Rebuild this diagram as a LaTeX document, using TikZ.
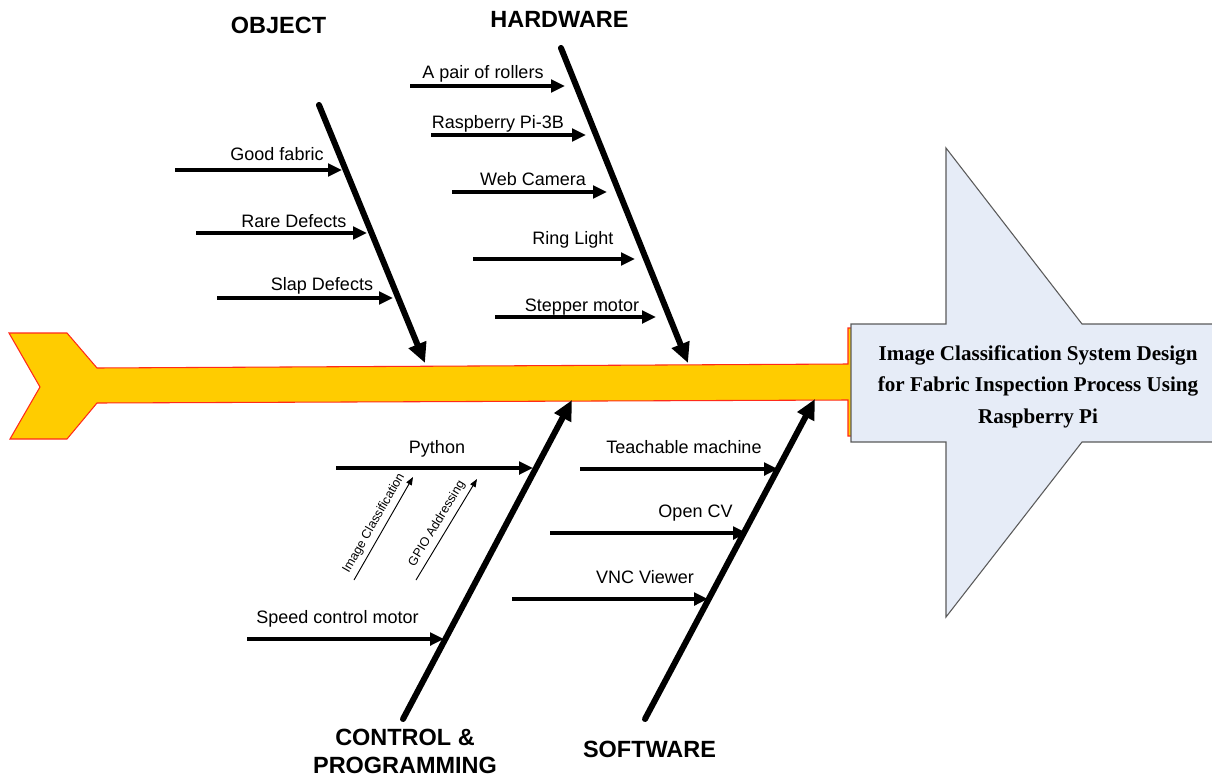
\documentclass[tikz,border=0pt]{standalone}
\usepackage{fontspec}
\setmainfont{Liberation Sans}
\newfontfamily\headfont{Liberation Serif}
\usetikzlibrary{arrows.meta}
\definecolor{spineyellow}{HTML}{FFCC00}
\definecolor{spinered}{HTML}{FF2A1A}
\definecolor{headblue}{HTML}{E6ECF7}
\definecolor{headgray}{HTML}{5A5A5A}
\begin{document}
\begin{tikzpicture}[x=0.75pt,y=-0.75pt,
  bone/.style={line width=4.5pt, line cap=round, -{Triangle[length=15pt,width=13.5pt]}},
  sub/.style={line width=2.5pt, -{Triangle[length=10.5pt,width=9.5pt]}},
  thinarrow/.style={line width=0.7pt, -{Triangle[length=6pt,width=4.5pt]}},
  lbl/.style={font=\fontsize{13.5}{16}\selectfont, inner sep=0pt, anchor=base},
  cat/.style={font=\bfseries\fontsize{17.6}{21}\selectfont, inner sep=0pt, anchor=base, align=center},
  smalllbl/.style={font=\fontsize{9.4}{11}\selectfont, sloped, above=2.5pt, inner sep=1pt}
]
\useasboundingbox (0,0) rectangle (1212,778);

% spine (fish body)
\path[fill=spineyellow, draw=spinered, line width=0.8pt]
  (9,333) -- (67,333) -- (97,368) -- (848,364) -- (848,328) -- (890,328)
  -- (890,436) -- (848,436) -- (848,400) -- (97,403) -- (67,439) -- (10,439)
  -- (40,387) -- cycle;

% head
\path[fill=headblue, draw=headgray, line width=0.8pt]
  (851,324) -- (946,324) -- (946,148) -- (1082,324) -- (1230,324)
  -- (1230,442) -- (1082,442) -- (946,617) -- (946,442) -- (851,442) -- cycle;
\node[font=\headfont\bfseries\fontsize{15.8}{23.6}\selectfont, align=center, inner sep=0pt]
  (head) at (1038,386.5) {Image Classification System Design\\for Fabric Inspection Process Using\\Raspberry Pi};

% bone coordinates
\coordinate (objA) at (319,105); \coordinate (objB) at (425,363);
\coordinate (hwA) at (561,48);  \coordinate (hwB) at (688,363);
\coordinate (cpA) at (403,719); \coordinate (cpB) at (572,400);
\coordinate (swA) at (645,719); \coordinate (swB) at (815,399);
\draw[bone] (objA) -- (objB);
\draw[bone] (hwA) -- (hwB);
\draw[bone] (cpA) -- (cpB);
\draw[bone] (swA) -- (swB);

% category labels
\node[cat] (object) at (278.5,33) {OBJECT};
\node[cat] (hardware) at (559.5,27) {HARDWARE};
\node[cat, anchor=north] (control) at (405,729) {CONTROL \&\\PROGRAMMING};
\node[cat] (software) at (649.5,757) {SOFTWARE};

% OBJECT causes
\coordinate (o1a) at (175,170); \coordinate (o1b) at (342,170);
\coordinate (o2a) at (196,233); \coordinate (o2b) at (367,233);
\coordinate (o3a) at (217,298); \coordinate (o3b) at (393,298);
\draw[sub] (o1a) -- (o1b);
\draw[sub] (o2a) -- (o2b);
\draw[sub] (o3a) -- (o3b);
\node[lbl] (good) at (277,160) {Good fabric};
\node[lbl] (rare) at (294,227) {Rare Defects};
\node[lbl] (slap) at (322,290) {Slap Defects};

% HARDWARE causes
\coordinate (h1a) at (410,86);  \coordinate (h1b) at (565,86);
\coordinate (h2a) at (431,135); \coordinate (h2b) at (586,135);
\coordinate (h3a) at (452,192); \coordinate (h3b) at (607,192);
\coordinate (h4a) at (473,259); \coordinate (h4b) at (635,259);
\coordinate (h5a) at (495,317); \coordinate (h5b) at (656,317);
\draw[sub] (h1a) -- (h1b);
\draw[sub] (h2a) -- (h2b);
\draw[sub] (h3a) -- (h3b);
\draw[sub] (h4a) -- (h4b);
\draw[sub] (h5a) -- (h5b);
\node[lbl] (rollers) at (483,78) {A pair of rollers};
\node[lbl] (rpi) at (498,128) {Raspberry Pi-3B};
\node[lbl] (cam) at (533,185) {Web Camera};
\node[lbl] (ring) at (573,244) {Ring Light};
\node[lbl] (stepper) at (582,311) {Stepper motor};

% CONTROL & PROGRAMMING causes
\coordinate (c1a) at (336,468); \coordinate (c1b) at (533,468);
\coordinate (c2a) at (247,639); \coordinate (c2b) at (444,639);
\draw[sub] (c1a) -- (c1b);
\draw[sub] (c2a) -- (c2b);
\node[lbl] (python) at (437,453) {Python};
\node[lbl] (speed) at (337.5,623) {Speed control motor};
\coordinate (i1a) at (354,580); \coordinate (i1b) at (413,477);
\coordinate (i2a) at (416,580); \coordinate (i2b) at (477,479);
\draw[thinarrow] (i1a) -- node[smalllbl] (imgcls) {Image Classification} (i1b);
\draw[thinarrow] (i2a) -- node[smalllbl] (gpio) {GPIO Addressing} (i2b);

% SOFTWARE causes
\coordinate (s1a) at (580,469); \coordinate (s1b) at (778,469);
\coordinate (s2a) at (550,533); \coordinate (s2b) at (747,533);
\coordinate (s3a) at (512,599); \coordinate (s3b) at (708,599);
\draw[sub] (s1a) -- (s1b);
\draw[sub] (s2a) -- (s2b);
\draw[sub] (s3a) -- (s3b);
\node[lbl] (teach) at (684,453) {Teachable machine};
\node[lbl] (opencv) at (695.5,517) {Open CV};
\node[lbl] (vnc) at (645,583) {VNC Viewer};
\end{tikzpicture}
\end{document}
